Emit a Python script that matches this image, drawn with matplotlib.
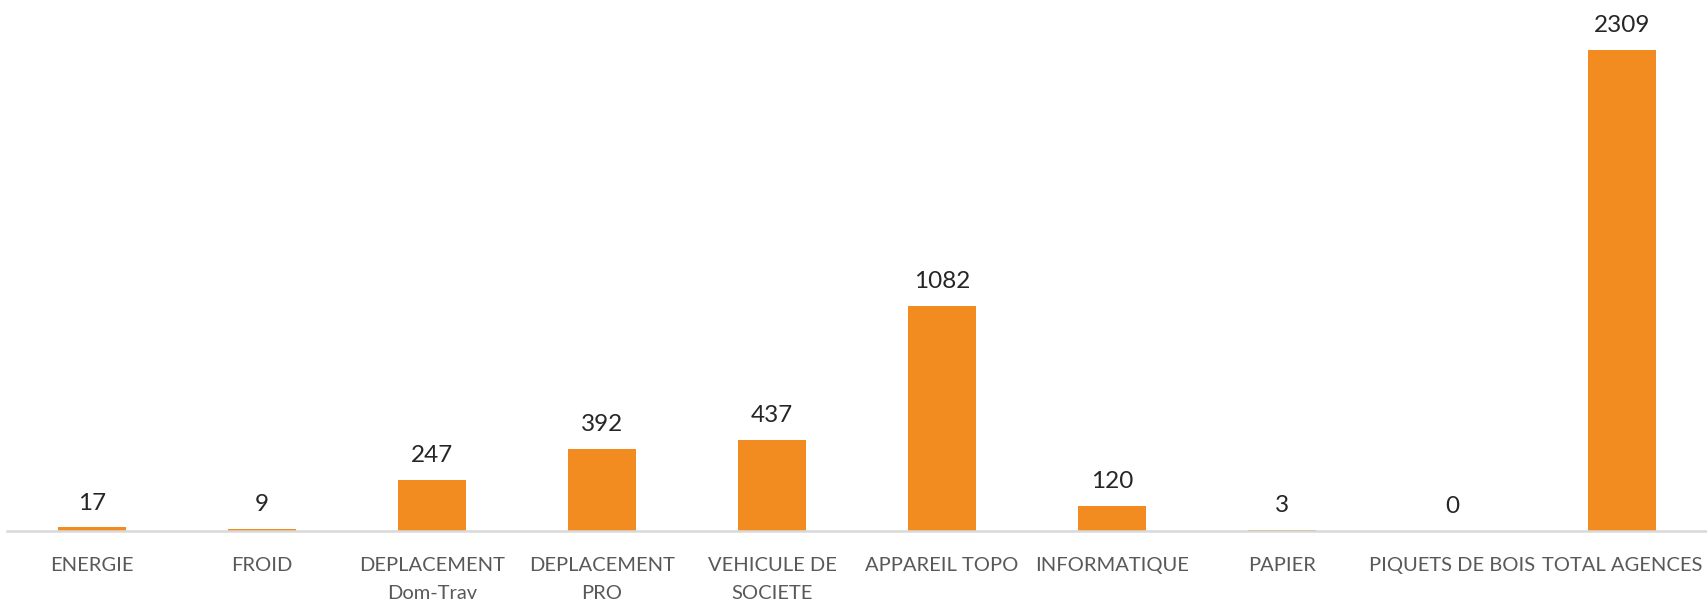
import matplotlib
matplotlib.use("Agg")
import matplotlib.pyplot as plt

categories = ["ENERGIE", "FROID", "DEPLACEMENT\nDom-Trav", "DEPLACEMENT\nPRO",
              "VEHICULE DE\nSOCIETE", "APPAREIL TOPO", "INFORMATIQUE", "PAPIER",
              "PIQUETS DE BOIS", "TOTAL AGENCES"]
values = [17, 9, 247, 392, 437, 1082, 120, 3, 0, 2309]

plt.rcParams['font.family'] = ['Lato', 'DejaVu Sans']

fig = plt.figure(figsize=(17.07, 6.0), dpi=100)
ax = fig.add_axes([7/1707, 69/600, 1 - 7/1707, 531/600])

x = list(range(len(values)))
ax.bar(x, values, width=0.4, color="#F28B20")
for xi, v in zip(x, values):
    ax.annotate(str(v), (xi, v), xytext=(0, 10), textcoords="offset points",
                ha="center", va="bottom", fontsize=17.5, color="#262626")

ax.set_xlim(-0.5, len(values) - 0.5)
ax.set_ylim(0, 2549)
ax.set_xticks(x)
ax.set_xticklabels(categories, fontsize=14.5, color="#595959", linespacing=1.75)
ax.tick_params(axis="x", length=0, pad=19)
ax.set_yticks([])
for s in ["top", "right", "left"]:
    ax.spines[s].set_visible(False)
ax.spines["bottom"].set_color("#D9D9D9")
ax.spines["bottom"].set_linewidth(1.8)

fig.savefig("out.png", dpi=100)
